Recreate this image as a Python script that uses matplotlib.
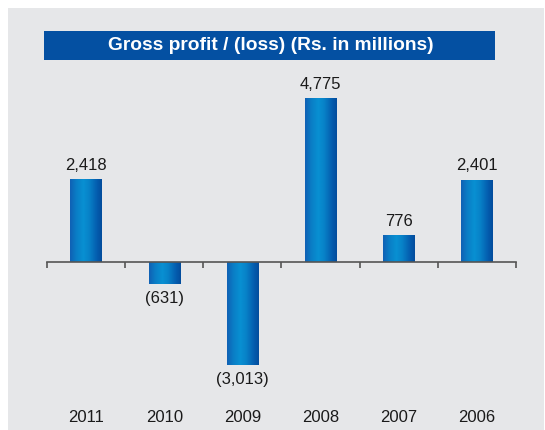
import numpy as np
import matplotlib.pyplot as plt
from matplotlib.patches import Rectangle
from matplotlib.colors import LinearSegmentedColormap
import matplotlib.transforms as mtransforms

years = ['2011', '2010', '2009', '2008', '2007', '2006']
values = [2418, -631, -3013, 4775, 776, 2401]
labels = ['2,418', '(631)', '(3,013)', '4,775', '776', '2,401']

plt.rcParams['font.family'] = ['Liberation Sans', 'DejaVu Sans']

W, H = 545, 430
fig = plt.figure(figsize=(W / 100, H / 100), dpi=100, facecolor='white')

# gray panel
fig.patches.append(Rectangle((8 / W, 0), (544 - 8) / W, (H - 8) / H, transform=fig.transFigure,
                             facecolor='#e6e7e9', edgecolor='none', zorder=-2))

# title bar
fig.patches.append(Rectangle((44 / W, 1 - 60 / H), (495 - 44) / W, 29 / H,
                             transform=fig.transFigure, facecolor='#0450a2',
                             edgecolor='none', zorder=-1))
fig.text((44 + 495) / 2 / W + 0.003, 1 - 45.5 / H, 'Gross profit / (loss) (Rs. in millions)',
         ha='center', va='center', color='white', fontsize=13.8, fontweight='bold')

# axes: x 47..516 px, y 70..400 px (from top)
ax = fig.add_axes([47 / W, 1 - 400 / H, (516 - 47) / W, 330 / H])
ax.set_zorder(2)
ax.set_facecolor('none')
ymax = (262 - 70) / 0.0343
ymin = -(400 - 262) / 0.0343

x = np.arange(len(years))
bars = ax.bar(x, values, width=0.4, color='#0070c0', edgecolor='none', zorder=2)

cmap = LinearSegmentedColormap.from_list('bar', [
    (0.0, '#1060b4'), (0.2, '#0a7ec6'), (0.42, '#0890d2'),
    (0.6, '#0882c8'), (0.85, '#045cae'), (1.0, '#034c9c')])
grad = np.linspace(0, 1, 256).reshape(1, -1)
for b in bars:
    x0, y0 = b.get_x(), b.get_y()
    w, h = b.get_width(), b.get_height()
    im = ax.imshow(grad, cmap=cmap, aspect='auto', zorder=3,
                   extent=[x0, x0 + w, min(y0, y0 + h), max(y0, y0 + h)])
    im.set_clip_path(b)
ax.set_xlim(-0.5, len(years) - 0.5)
ax.set_ylim(ymin, ymax)

for i, (v, lab) in enumerate(zip(values, labels)):
    if v >= 0:
        ax.annotate(lab, (i, v), xytext=(0, 4.5), textcoords='offset points',
                    ha='center', va='bottom', fontsize=12, color='#1a1a1a')
    else:
        ax.annotate(lab, (i, v), xytext=(0, -5), textcoords='offset points',
                    ha='center', va='top', fontsize=12, color='#1a1a1a')

trans = mtransforms.blended_transform_factory(ax.transData, fig.transFigure)
for i, yr in enumerate(years):
    ax.text(i, 1 - 418 / H, yr, transform=trans, ha='center', va='center',
            fontsize=12, color='#1a1a1a', clip_on=False)

for s in ['top', 'right', 'left']:
    ax.spines[s].set_visible(False)
ax.spines['bottom'].set_position(('data', 0))
ax.spines['bottom'].set_color('#555555')
ax.spines['bottom'].set_linewidth(1.2)
ax.spines['bottom'].set_zorder(4)
ax.set_yticks([])
ax.set_xticks(np.arange(-0.5, len(years)))
ax.tick_params(axis='x', direction='out', length=4, width=1.2, color='#555555',
               labelbottom=False)

fig.savefig('out.png', dpi=100, facecolor=fig.get_facecolor())
